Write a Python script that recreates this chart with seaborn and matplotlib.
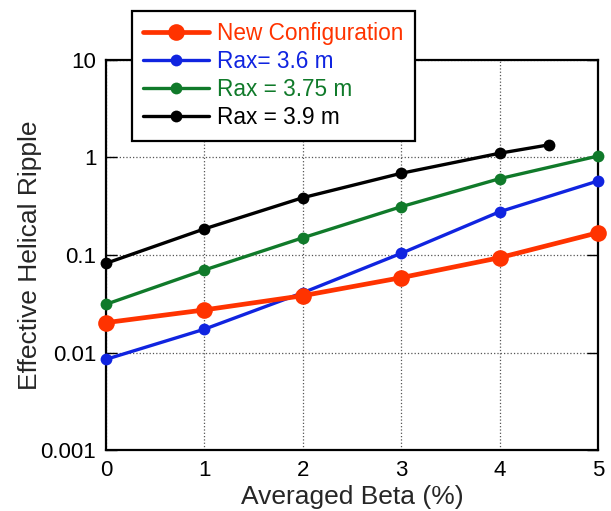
import numpy as np
import pandas as pd
import matplotlib
matplotlib.use('Agg')
import matplotlib.pyplot as plt
import seaborn as sns
from matplotlib.ticker import FixedLocator, FixedFormatter, NullLocator

# data
beta = [0, 1, 2, 3, 4, 5]
beta_39 = [0, 1, 2, 3, 4, 4.5]
new_config = [0.0203, 0.0274, 0.0383, 0.0586, 0.0938, 0.169]
rax_36 = [0.00855, 0.0174, 0.0411, 0.104, 0.277, 0.572]
rax_375 = [0.0313, 0.0702, 0.150, 0.312, 0.604, 1.03]
rax_39 = [0.0822, 0.185, 0.386, 0.686, 1.10, 1.34]

labels = ['New Configuration', 'Rax= 3.6 m', 'Rax = 3.75 m', 'Rax = 3.9 m']
colors = ['#ff3300', '#1024e0', '#107a2a', '#000000']
y_ticks = [0.001, 0.01, 0.1, 1, 10]
y_tick_labels = ['0.001', '0.01', '0.1', '1', '10']

sns.set_style('white')
plt.rcParams['font.family'] = ['Liberation Sans', 'DejaVu Sans']

fig = plt.figure(figsize=(6.11, 5.11), dpi=100)
ax = fig.add_axes([0.1735, 0.1186, 0.8052, 0.7648])

series = [(beta, new_config), (beta, rax_36), (beta, rax_375), (beta_39, rax_39)]
for i, (xs, ys) in enumerate(series):
    big = i == 0
    sns.lineplot(x=xs, y=ys, ax=ax, color=colors[i], label=labels[i],
                 marker='o', markersize=12 if big else 8.5,
                 markeredgewidth=0, linewidth=3.4 if big else 2.4,
                 zorder=4 - i + 2, clip_on=False)

ax.set_yscale('log')
ax.set_xlim(0, 5)
ax.set_ylim(0.001, 10)
ax.yaxis.set_major_locator(FixedLocator(y_ticks))
ax.yaxis.set_major_formatter(FixedFormatter(y_tick_labels))
ax.yaxis.set_minor_locator(NullLocator())
ax.set_xticks(range(6))

ax.grid(True, which='major', color='#555555', linestyle=':', linewidth=0.9)
ax.tick_params(direction='in', length=8, width=1, labelsize=16, pad=7,
               right=True, left=True, bottom=False, colors='black')
for s in ax.spines.values():
    s.set_visible(True)
    s.set_color('black')
    s.set_linewidth(1.6)

ax.set_xlabel('Averaged Beta (%)', fontsize=19, labelpad=3)
ax.set_ylabel('Effective Helical Ripple', fontsize=19, labelpad=-1)

leg = ax.legend(loc='upper left', bbox_to_anchor=(132 / 611, 1 - 11 / 511),
                bbox_transform=fig.transFigure, fontsize=16.3, frameon=True,
                fancybox=False, framealpha=1, edgecolor='black',
                handlelength=2.9, handletextpad=0.35, labelspacing=0.22,
                borderpad=0.5, borderaxespad=0)
leg.get_frame().set_linewidth(1.6)
leg.set_zorder(10)
for txt, c in zip(leg.get_texts(), colors):
    txt.set_color(c)

fig.savefig('out.png', dpi=100)
